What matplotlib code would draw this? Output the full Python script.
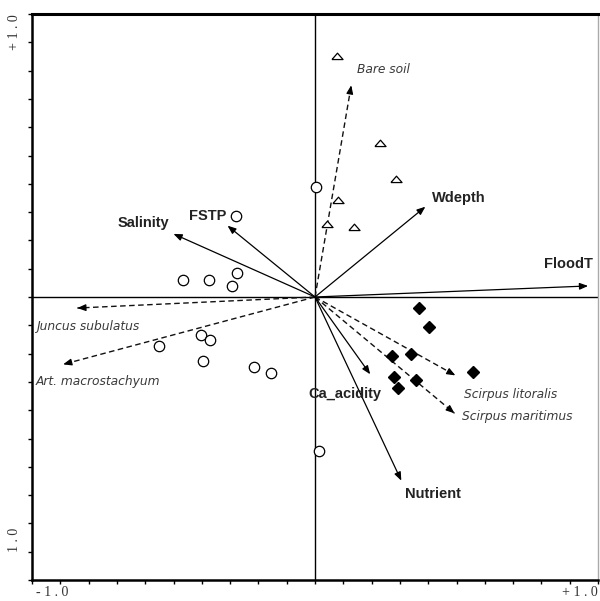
import matplotlib.pyplot as plt
import numpy as np

# sample scores
tri_x = [0.078, 0.230, 0.287, 0.082, 0.043, 0.138]
tri_y = [0.851, 0.543, 0.418, 0.344, 0.259, 0.248]

circ_x = [0.004, -0.280, -0.465, -0.376, -0.277, -0.294, -0.404, -0.372,
          -0.550, -0.397, -0.216, -0.156, 0.014]
circ_y = [0.387, 0.287, 0.060, 0.060, 0.085, 0.039, -0.135, -0.152,
          -0.174, -0.227, -0.248, -0.270, -0.543]

dia_x = [0.369, 0.404, 0.273, 0.340, 0.560, 0.280, 0.358, 0.294]
dia_y = [-0.039, -0.106, -0.209, -0.202, -0.266, -0.284, -0.294, -0.323]

# environmental variables (solid arrows)
env_names = ['Salinity', 'FSTP', 'Wdepth', 'FloodT', 'Ca_acidity', 'Nutrient']
env_x = [-0.500, -0.309, 0.390, 0.965, 0.195, 0.305]
env_y = [0.223, 0.252, 0.319, 0.039, -0.273, -0.649]
env_lx = [-0.606, -0.379, 0.507, 0.897, 0.106, 0.415]
env_ly = [0.262, 0.287, 0.351, 0.117, -0.344, -0.695]

# species (dashed arrows)
sp_names = ['Bare soil', 'Juncus subulatus', 'Art. macrostachyum',
            'Scirpus litoralis', 'Scirpus maritimus']
sp_x = [0.128, -0.840, -0.890, 0.496, 0.493]
sp_y = [0.748, -0.039, -0.238, -0.277, -0.411]
sp_lx = [0.241, -0.986, -0.986, 0.528, 0.521]
sp_ly = [0.805, -0.103, -0.298, -0.344, -0.422]
sp_ha = ['center', 'left', 'left', 'left', 'left']

fig = plt.figure(figsize=(6, 6.01), dpi=100)
ax = fig.add_axes([32 / 600, 1 - 580 / 601, 566 / 600, 566 / 601])
ax.set_xlim(-1, 1)
ax.set_ylim(-1, 1)

ax.axhline(0, color='black', lw=1)
ax.axvline(0, color='black', lw=1)

for x, y in zip(env_x, env_y):
    ax.annotate('', xy=(x, y), xytext=(0, 0),
                arrowprops=dict(arrowstyle='-|>,head_length=0.5,head_width=0.2',
                                color='black', lw=0.9, shrinkA=0, shrinkB=0))
for n, x, y in zip(env_names, env_lx, env_ly):
    ax.text(x, y, n, fontsize=10.5, fontweight='bold', family='Liberation Sans',
            ha='center', va='center', color='#222222')

for x, y in zip(sp_x, sp_y):
    ax.plot([0, x], [0, y], color='#111111', lw=1, ls=(0, (4, 2.5)))
    ax.annotate('', xy=(x, y), xytext=(0.97 * x, 0.97 * y),
                arrowprops=dict(arrowstyle='-|>,head_length=0.5,head_width=0.2',
                                color='black', lw=0.9, shrinkA=0, shrinkB=0))
for n, x, y, ha in zip(sp_names, sp_lx, sp_ly, sp_ha):
    ax.text(x, y, n, fontsize=8.8, style='italic', family='DejaVu Sans',
            ha=ha, va='center', color='#3a3a3a')

flat_tri = [(-1, -0.55), (1, -0.55), (0, 0.6), (-1, -0.55)]
ax.plot(circ_x, circ_y, 'o', ms=7.5, mfc='white', mec='black', mew=0.9)
ax.plot(tri_x, tri_y, marker=flat_tri, ls='none', ms=8, mfc='white',
        mec='black', mew=0.9)
ax.plot(dia_x, dia_y, 'D', ms=6.2, color='black')

ticks = np.round(np.arange(-1, 1.01, 0.1), 1)
ax.set_xticks(ticks)
ax.set_yticks(ticks)
ax.set_xticklabels([])
ax.set_yticklabels([])
ax.tick_params(direction='out', length=3, width=1)

for s in ['left', 'bottom']:
    ax.spines[s].set_linewidth(1.8)
ax.spines['top'].set_linewidth(2.2)
ax.spines['right'].set_color('#aaaaaa')
ax.spines['right'].set_linewidth(1)

lab = dict(fontsize=10, family='Liberation Serif', color='#333333')
fig.text(52 / 600, 1 - 592 / 601, '- 1 . 0', ha='center', va='center', **lab)
fig.text(580 / 600, 1 - 592 / 601, '+ 1 . 0', ha='center', va='center', **lab)
fig.text(15 / 600, 1 - 32 / 601, '+ 1 . 0', rotation=90, ha='center', va='center', **lab)
fig.text(15 / 600, 1 - 540 / 601, '1 . 0', rotation=90, ha='center', va='center', **lab)

fig.savefig('out.png', dpi=100)
